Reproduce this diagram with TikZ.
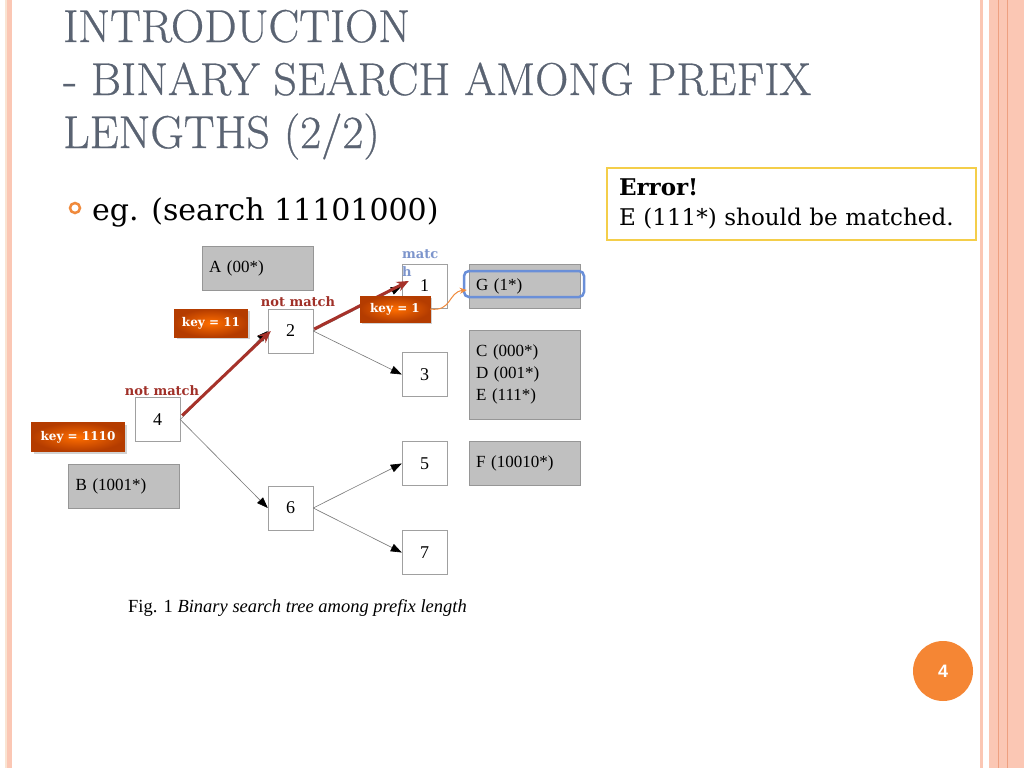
\documentclass[tikz,border=0pt]{standalone}
\usepackage{fontspec}
\usepackage{tikz}
\usetikzlibrary{arrows.meta,positioning,calc,shadows}
\newfontfamily\figfont{Liberation Serif}
\newfontfamily\bodyfont{DejaVu Serif}
\newfontfamily\titlefont[FakeBold=0.6]{Latin Modern Roman}
\newfontfamily\numfont{Liberation Sans}
\definecolor{peach}{RGB}{251,199,180}
\definecolor{peachline}{RGB}{238,160,128}
\definecolor{cream}{RGB}{250,228,210}
\definecolor{titlegray}{RGB}{90,99,114}
\definecolor{bulletorange}{RGB}{240,138,60}
\definecolor{erryellow}{RGB}{244,206,74}
\definecolor{leafgray}{RGB}{192,192,192}
\definecolor{leafline}{RGB}{150,150,150}
\definecolor{boxline}{RGB}{160,160,160}
\definecolor{edgegray}{RGB}{120,120,120}
\definecolor{hitred}{RGB}{166,50,42}
\definecolor{notred}{RGB}{160,48,40}
\definecolor{matchblue}{RGB}{125,149,204}
\definecolor{keydark}{RGB}{180,60,0}
\definecolor{keybright}{RGB}{255,110,0}
\definecolor{hiblue}{RGB}{106,143,216}
\definecolor{pageorange}{RGB}{245,134,52}

\begin{document}
\begin{tikzpicture}[x=1pt,y=-1pt,
  box/.style={draw=boxline, fill=white, minimum width=45pt, minimum height=44pt, inner sep=0pt, font=\figfont\fontsize{18}{20}\selectfont},
  leaf/.style={draw=leafline, fill=leafgray, minimum width=111pt, minimum height=44pt, text width=97pt, inner xsep=7pt, align=left, font=\figfont\fontsize{17}{22}\selectfont},
  edge/.style={draw=edgegray, line width=0.6pt, -{Triangle[length=11pt,width=8pt,color=black]}},
  hit/.style={draw=hitred, line width=3pt, -{Stealth[length=12pt,width=10pt]}},
  keybox/.style={inner color=keybright, outer color=keydark, draw=keydark, drop shadow={opacity=0.35,shadow xshift=2pt,shadow yshift=-2pt}, inner sep=0pt, text=white, font=\bodyfont\bfseries\fontsize{12}{12}\selectfont},
  note/.style={inner sep=0pt, text=notred, font=\bodyfont\bfseries\fontsize{13}{13}\selectfont},
  titleline/.style={anchor=base west, inner sep=0pt, text=titlegray, font=\titlefont\fontsize{46}{46}\selectfont}
]
\useasboundingbox (0,0) rectangle (1024,768);
\fill[white] (0,0) rectangle (1024,768);
% side borders
\fill[cream] (5,0) rectangle (7,768);
\fill[peach] (7,0) rectangle (12,768);
\fill[peach] (980,0) rectangle (983,768);
\fill[peach] (989,0) rectangle (1024,768);
\draw[peachline] (998,0) -- (998,768);
\draw[peachline] (1007,0) -- (1007,768);

% title
\node[titleline] (t1) at (63,42) {INTRODUCTION};
\node[titleline] (t2) at (63,95) {- BINARY SEARCH AMONG PREFIX};
\node[titleline] (t3) at (63,148) {LENGTHS (2/2)};

% bullet
\node[draw=bulletorange, line width=2.5pt, circle, minimum size=10pt, inner sep=0pt] (dot) at (75,208) {};
\node[anchor=base west, inner sep=0pt, font=\bodyfont\fontsize{30}{30}\selectfont] (eg) at (92,220) {eg. (search 11101000)};

% error note
\node[draw=erryellow, line width=2pt, fill=white, minimum width=369pt, minimum height=72pt, text width=345pt, align=left, inner xsep=12pt, font=\bodyfont\fontsize{23}{30}\selectfont] (err) at (791.5,204) {\textbf{Error!}\\E (111*) should be matched.};

% tree nodes
\node[box] (n4) at (157.5,419.5) {4};
\node[box] (n2) at (290.5,331) {2};
\node[box] (n6) at (290.5,508) {6};
\node[box] (n1) at (424.5,286) {1};
\node[box] (n3) at (424.5,374.5) {3};
\node[box] (n5) at (424.5,463.5) {5};
\node[box] (n7) at (424.5,552.5) {7};

% prefix lists
\node[leaf] (la) at (257.5,268) {A (00*)};
\node[leaf] (lb) at (124,486) {B (1001*)};
\node[leaf] (lg) at (524.5,286) {G (1*)};
\node[leaf, minimum height=89pt] (lc) at (524.5,374.5) {C (000*)\\D (001*)\\E (111*)};
\node[leaf] (lf) at (524.5,463.5) {F (10010*)};
\node[draw=hiblue, line width=2.5pt, rounded corners=5pt, minimum width=120pt, minimum height=26pt] (hl) at (524,284) {};

% edges
\foreach \a/\b in {n4/n2, n4/n6, n2/n1, n2/n3, n6/n5, n6/n7} {
  \draw[edge] (\a.east) -- (\b.west);
}

% search path
\draw[hit] ($(n4.east)+(2,-4)$) -- ($(n2.west)+(3,0)$);
\draw[hit] ($(n2.east)+(1,-2)$) -- ($(n1.west)+(7,-5)$);

\node[note, anchor=base] (nm4) at (162,395) {not match};
\node[note, anchor=base] (nm2) at (298,306) {not match};
\node[note, anchor=base west, text=matchblue, align=left, font=\bodyfont\bfseries\fontsize{13}{18}\selectfont] (m1) at (402,276) {matc\\h};

% keys
\node[keybox, minimum width=93pt, minimum height=29pt] (k4) at (78,437) {key = 1110};
\node[keybox, minimum width=73pt, minimum height=28pt] (k2) at (211,323) {key = 11};
\node[keybox, minimum width=70pt, minimum height=26pt] (k1) at (395,309) {key = 1};
\draw[bulletorange, line width=1pt, -{Stealth[length=7pt,width=6pt]}] (k1.east) .. controls (452,312) and (448,292) .. ($(lg.west)+(-2,4)$);

% caption
\node[anchor=base west, inner sep=0pt, font=\figfont\fontsize{18.5}{18.5}\selectfont] (cap) at (128,612) {Fig. 1 \textit{Binary search tree among prefix length}};

% page number
\node[circle, fill=pageorange, minimum size=60pt, inner sep=0pt, text=white, font=\numfont\bfseries\fontsize{18}{18}\selectfont] (pg) at (943,671) {4};
\end{tikzpicture}
\end{document}
